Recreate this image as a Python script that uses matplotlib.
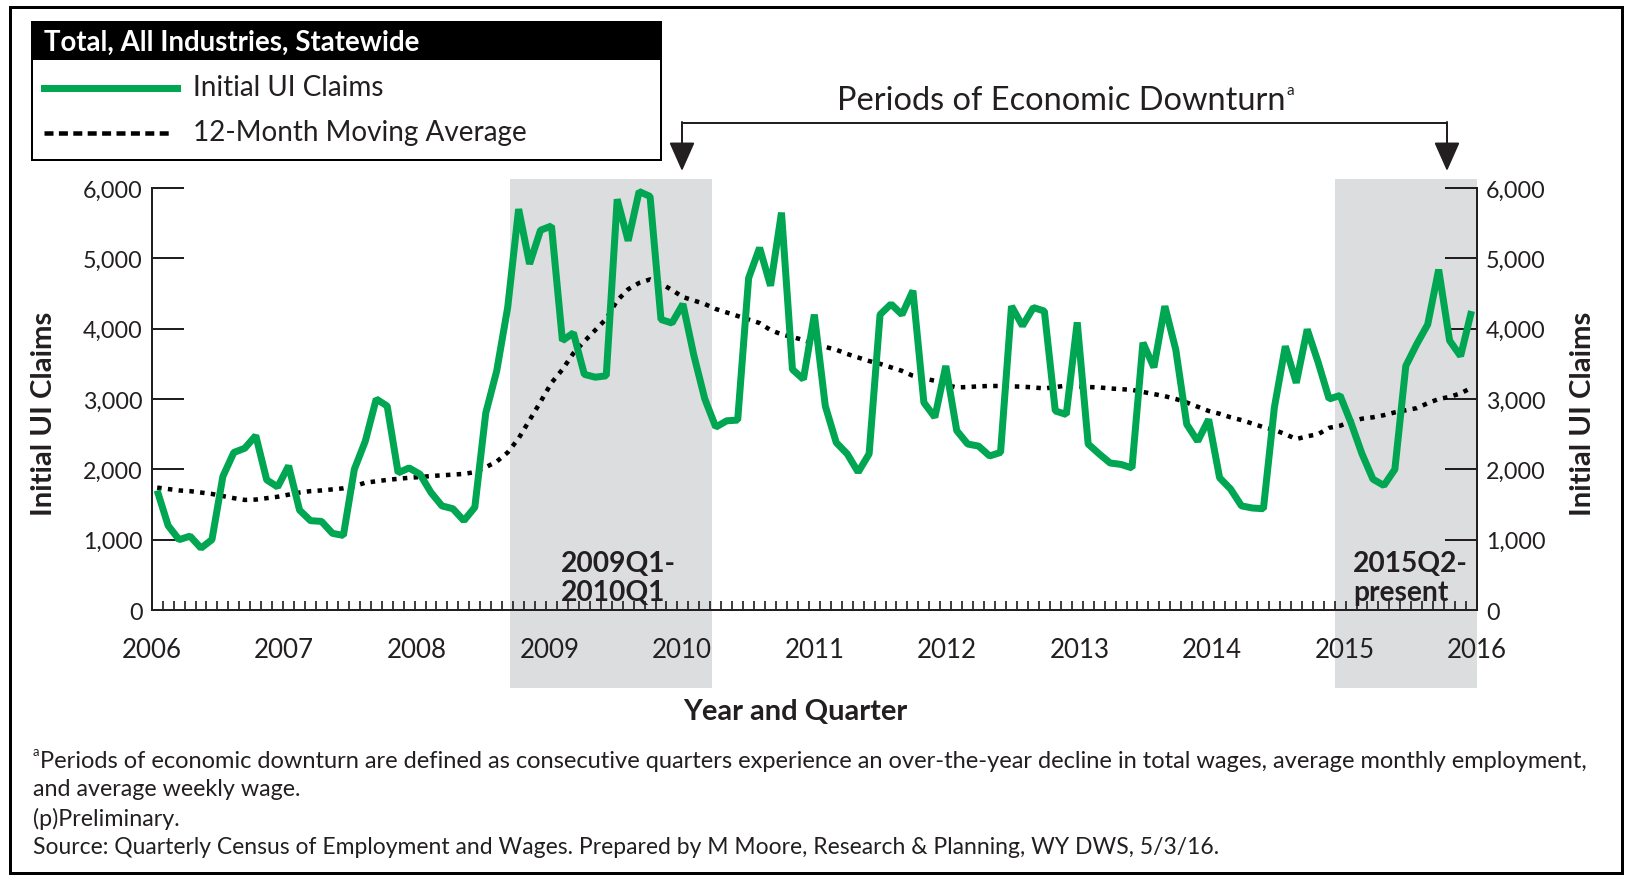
import numpy as np
import matplotlib
matplotlib.use("Agg")
import matplotlib.pyplot as plt
from matplotlib.patches import Rectangle, FancyArrowPatch
from matplotlib.lines import Line2D
import matplotlib.transforms as mtransforms

FONT = ["Lato", "DejaVu Sans"]
plt.rcParams["font.family"] = FONT

# ---------------- data ----------------
years = ["2006", "2007", "2008", "2009", "2010", "2011",
         "2012", "2013", "2014", "2015", "2016"]

# monthly initial UI claims, Jan 2006 .. Jan 2016
initial_claims = [
    1700, 1200, 1000, 1050, 880, 1000, 1900, 2240, 2300, 2480, 1850, 1750,   # 2006
    2050, 1420, 1270, 1260, 1090, 1060, 2000, 2400, 3000, 2900, 1950, 2020,  # 2007
    1930, 1670, 1480, 1440, 1270, 1460, 2800, 3400, 4300, 5700, 4920, 5400,  # 2008
    5460, 3830, 3940, 3350, 3310, 3330, 5840, 5250, 5950, 5880, 4130, 4080,  # 2009
    4350, 3620, 3000, 2600, 2690, 2700, 4720, 5150, 4610, 5650, 3420, 3280,  # 2010
    4200, 2900, 2380, 2220, 1960, 2220, 4200, 4350, 4200, 4540, 2950, 2740,  # 2011
    3470, 2550, 2360, 2330, 2190, 2240, 4320, 4040, 4300, 4250, 2830, 2780,  # 2012
    4090, 2360, 2220, 2090, 2070, 2020, 3800, 3450, 4320, 3700, 2640, 2400,  # 2013
    2710, 1880, 1720, 1480, 1450, 1440, 2880, 3750, 3230, 3990, 3520, 3000,  # 2014
    3050, 2660, 2220, 1860, 1770, 2000, 3470, 3780, 4060, 4840, 3830, 3610,  # 2015
    4250,                                                                    # 2016
]

moving_average = [
    1740, 1720, 1700, 1690, 1670, 1650, 1620, 1590, 1565, 1570, 1590, 1610,
    1640, 1670, 1690, 1700, 1715, 1730, 1760, 1810, 1830, 1850, 1865, 1880,
    1890, 1905, 1915, 1925, 1935, 1960, 2030, 2110, 2240, 2440, 2700, 2960,
    3230, 3420, 3650, 3820, 3980, 4140, 4400, 4560, 4650, 4700, 4640, 4550,
    4450, 4400, 4350, 4280, 4230, 4180, 4130, 4080, 3980, 3920, 3880, 3840,
    3780, 3740, 3700, 3640, 3590, 3540, 3500, 3450, 3400, 3330, 3290, 3260,
    3200, 3165, 3170, 3180, 3185, 3185, 3180, 3175, 3165, 3150, 3170, 3190,
    3180, 3170, 3165, 3150, 3140, 3130, 3100, 3070, 3040, 3000, 2950, 2890,
    2830, 2790, 2740, 2700, 2650, 2600, 2560, 2500, 2430, 2470, 2500, 2590,
    2620, 2680, 2720, 2740, 2770, 2810, 2840, 2870, 2940, 3000, 3030, 3080,
    3160,
]

y_ticks = [0, 1000, 2000, 3000, 4000, 5000, 6000]

# shaded downturn periods (start, end in months from Jan 2006) and labels
downturn_start = [32.7, 108.0]
downturn_end = [51.2, 121.0]
downturn_labels = [["2009Q1-", "2010Q1"], ["2015Q2-", "present"]]

series_names = ["Initial UI Claims", "12-Month Moving Average"]
legend_title = "Total, All Industries, Statewide"
x_title = "Year and Quarter"
y_title = "Initial UI Claims"
bracket_title = "Periods of Economic Downturn"
footnotes = [
    "Periods of economic downturn are defined as consecutive quarters experience an over-the-year decline in total wages, average monthly employment,",
    "and average weekly wage.",
    "(p)Preliminary.",
    "Source: Quarterly Census of Employment and Wages. Prepared by M Moore, Research & Planning, WY DWS, 5/3/16.",
]

# ---------------- styling ----------------
GREEN = "#00a651"
SHADE = "#dcdddf"
INK = "#231f20"
W, H = 1630, 878

fig = plt.figure(figsize=(W / 100, H / 100), dpi=100)
fig.patch.set_facecolor("white")
renderer = fig.canvas.get_renderer()


def fx(x):
    return x / W


def fy(y):
    return 1 - y / H


def size_for(s, width_px, weight="normal"):
    t = fig.text(0, 0, s, fontsize=10, fontweight=weight)
    w = t.get_window_extent(renderer).width
    t.remove()
    return 10 * width_px / w


PX = 72 / 100  # points per pixel

# ---------------- axes ----------------
ax_l, ax_r, ax_t, ax_b = 151.7, 1477, 189, 611
ax = fig.add_axes([fx(ax_l), fy(ax_b), (ax_r - ax_l) / W, (ax_b - ax_t) / H])
ax.patch.set_visible(False)

n = len(initial_claims)
xpos = np.arange(n) + 0.5

# shaded periods extend beyond the axes vertically
trans = mtransforms.blended_transform_factory(ax.transData, fig.transFigure)
for s, e in zip(downturn_start, downturn_end):
    r = Rectangle((s, fy(689)), e - s, fy(180) - fy(689), transform=trans,
                  facecolor=SHADE, edgecolor="none", zorder=0, clip_on=False)
    ax.add_artist(r)

ax.plot(xpos, moving_average, color="black", lw=4.5 * PX,
        linestyle=(0, (1, 1.4)), dash_capstyle="butt", zorder=2)
ax.plot(xpos, initial_claims, color=GREEN, lw=7 * PX,
        solid_joinstyle="bevel", solid_capstyle="butt", zorder=3)

ax.set_xlim(0, n)
ax.set_ylim(0, 6000)

for side in ["left", "right", "bottom"]:
    ax.spines[side].set_linewidth(2 * PX)
    ax.spines[side].set_color(INK)
ax.spines["top"].set_visible(False)

ytick_size = size_for("6,000", 59)
xtick_size = size_for("2006", 60)

ax.set_yticks(y_ticks)
ax.set_yticklabels([f"{v:,}" for v in y_ticks])
ax.tick_params(axis="y", which="major", direction="in", length=32 * PX,
               width=2 * PX, color=INK, left=True, right=True,
               labelleft=True, labelright=True, labelsize=ytick_size,
               labelcolor=INK, pad=9 * PX)

ax.set_xticks(np.linspace(0, n, len(years)))
ax.set_xticklabels(years)
ax.set_xticks(np.arange(0, n + 1), minor=True)
ax.tick_params(axis="x", which="major", length=0, labelsize=xtick_size,
               labelcolor=INK, pad=27 * PX)
ax.tick_params(axis="x", which="minor", direction="in", length=9 * PX,
               width=1.7 * PX, color=INK)

# shade labels
lab_size = size_for("2009Q1-", 115, "bold")
for (l1, l2), xl in zip(downturn_labels, [561, 1353]):
    fig.text(fx(xl), fy(564), l1, fontsize=lab_size, fontweight="bold",
             color=INK, va="center", ha="left", zorder=5)
    fig.text(fx(xl), fy(593), l2, fontsize=lab_size, fontweight="bold",
             color=INK, va="center", ha="left", zorder=5)

# axis titles
yt_size = size_for(y_title, 205, "bold")
fig.text(fx(44), fy(414), y_title, rotation=90, fontsize=yt_size,
         fontweight="bold", color=INK, ha="center", va="center")
fig.text(fx(1583), fy(414), y_title, rotation=90, fontsize=yt_size,
         fontweight="bold", color=INK, ha="center", va="center")
fig.text(fx(795), fy(712), x_title, fontsize=size_for(x_title, 225, "bold"),
         fontweight="bold", color=INK, ha="center", va="center")

# ---------------- legend box ----------------
lg_l, lg_r, lg_t, lg_hb, lg_b = 32, 661, 23, 60, 161
fig.add_artist(Rectangle((fx(lg_l), fy(lg_hb)), (lg_r - lg_l) / W,
                         (lg_hb - lg_t) / H, transform=fig.transFigure,
                         facecolor="black", edgecolor="black", lw=2 * PX))
fig.add_artist(Rectangle((fx(lg_l), fy(lg_b)), (lg_r - lg_l) / W,
                         (lg_b - lg_t) / H, transform=fig.transFigure,
                         facecolor="none", edgecolor="black", lw=2 * PX))
fig.text(fx(44), fy(43), legend_title,
         fontsize=size_for(legend_title, 377, "bold"), fontweight="bold",
         color="white", ha="left", va="center")
fig.add_artist(Line2D([fx(44), fx(177)], [fy(89), fy(89)],
                      transform=fig.transFigure, color=GREEN, lw=7 * PX))
fig.add_artist(Line2D([fx(44), fx(172)], [fy(134), fy(134)],
                      transform=fig.transFigure, color="black", lw=4.5 * PX,
                      linestyle=(0, (2, 1.2)), dash_capstyle="butt"))
leg_size = size_for(series_names[1], 334)
fig.text(fx(193), fy(88), series_names[0], fontsize=leg_size, color=INK,
         ha="left", va="center")
fig.text(fx(193), fy(133), series_names[1], fontsize=leg_size, color=INK,
         ha="left", va="center")

# ---------------- bracket annotation ----------------
tt = fig.text(fx(837), fy(101), bracket_title,
              fontsize=size_for(bracket_title, 449), color=INK,
              ha="left", va="center")
ax.annotate("a", xy=(1, 0.6), xycoords=tt, xytext=(0.5, 0),
            textcoords="offset points", fontsize=leg_size * 0.55,
            color=INK, ha="left", va="bottom")
fig.add_artist(Line2D([fx(682), fx(1447)], [fy(124), fy(124)],
                      transform=fig.transFigure, color=INK, lw=2 * PX))
for xa in [682, 1447]:
    fig.add_artist(FancyArrowPatch((fx(xa), fy(123)), (fx(xa), fy(172)),
                                   transform=fig.transFigure,
                                   arrowstyle="-|>,head_length=0.9,head_width=0.4",
                                   mutation_scale=20, color=INK, lw=2 * PX,
                                   shrinkA=0, shrinkB=0))

# ---------------- footnotes ----------------
fn_size = size_for(footnotes[0], 1554)
src_size = size_for(footnotes[3], 1183)
fn_size2 = 0.5 * (fn_size + src_size)
fig.text(fx(33), fy(758), "a", fontsize=fn_size * 0.55, color=INK,
         ha="left", va="bottom")
sizes = [fn_size, fn_size2, fn_size2, src_size]
for txt, yy, xx, sz in zip(footnotes, [762, 789, 819, 848], [40, 33, 33, 33], sizes):
    fig.text(fx(xx), fy(yy), txt, fontsize=sz, color=INK,
             ha="left", va="center")

# outer frame
fig.add_artist(Rectangle((fx(10), fy(874)), (1622 - 10) / W, (874 - 8) / H,
                         transform=fig.transFigure, facecolor="none",
                         edgecolor="black", lw=3 * PX))

fig.savefig("out.png", dpi=100, facecolor="white")
